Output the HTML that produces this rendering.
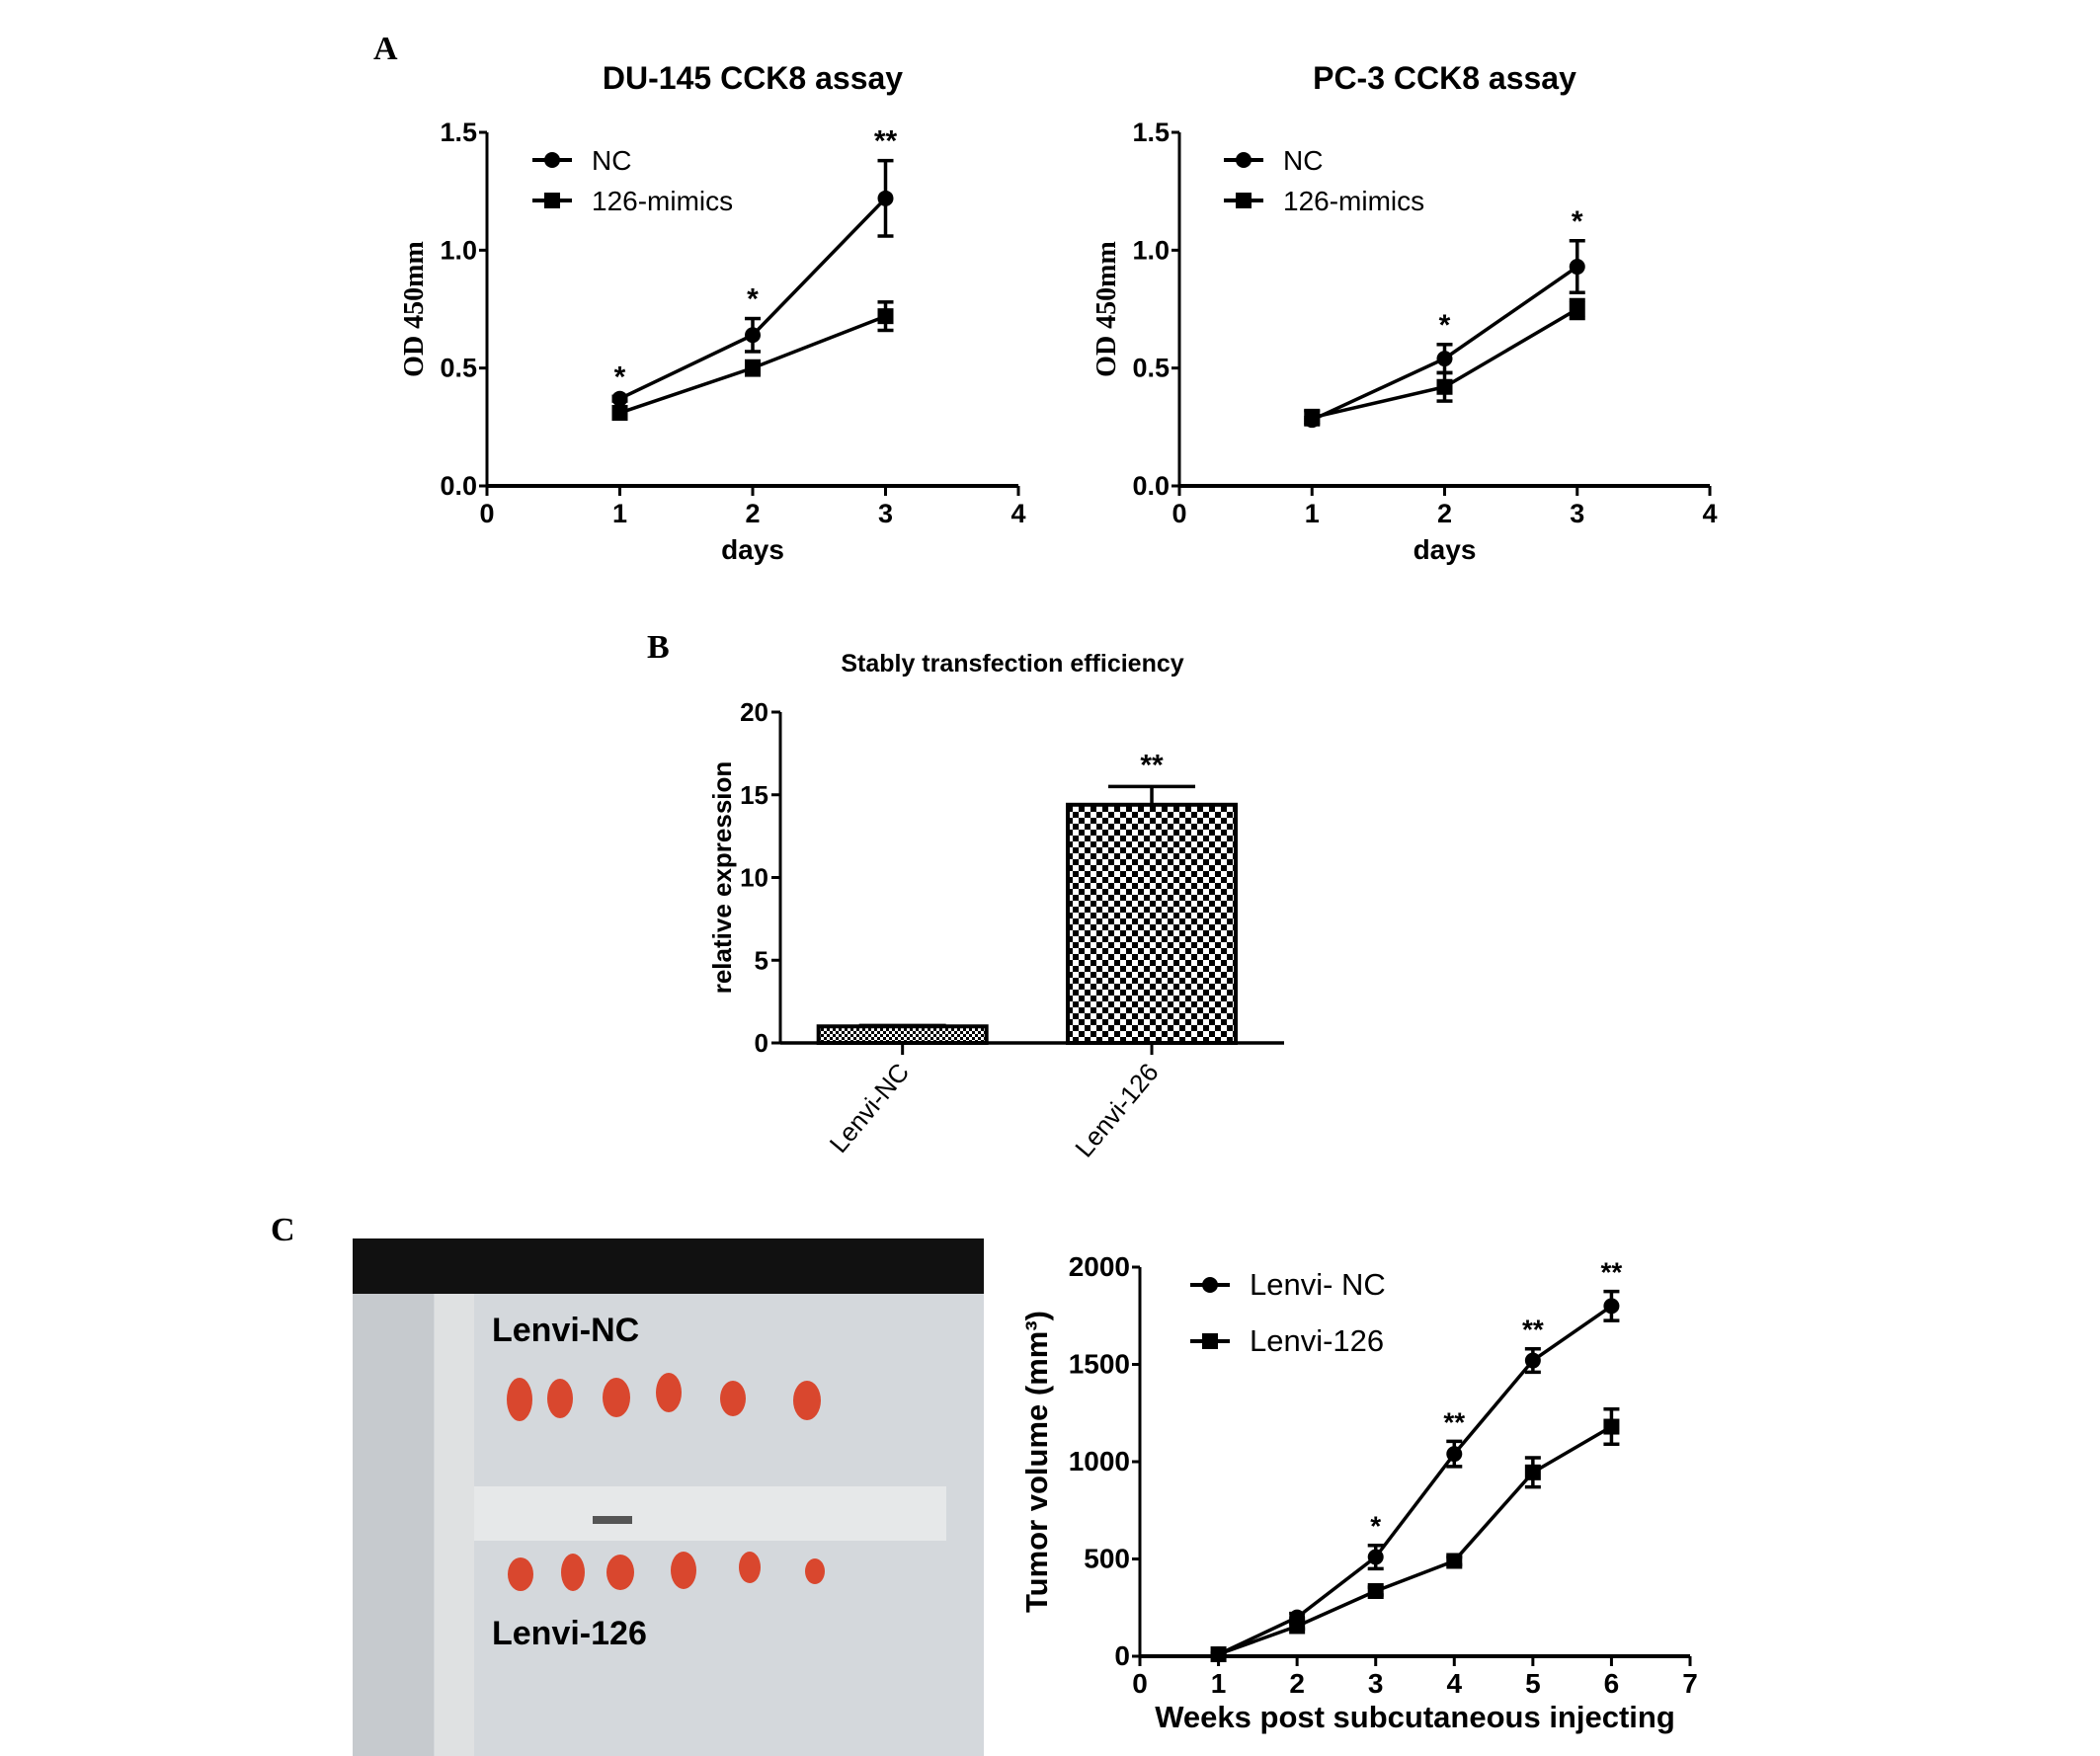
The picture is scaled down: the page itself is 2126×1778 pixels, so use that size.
<!DOCTYPE html>
<html><head><meta charset="utf-8"><style>
html,body{margin:0;padding:0;background:#fff}
svg{display:block}
text{font-family:"Liberation Sans",sans-serif;font-weight:bold;fill:#000}
.serif{font-family:"Liberation Serif",serif}
</style></head><body>
<svg id="fig" width="2126" height="1778" viewBox="0 0 2126 1778" xmlns="http://www.w3.org/2000/svg">
<defs>
<pattern id="chk" width="12" height="12" patternUnits="userSpaceOnUse"><rect width="12" height="12" fill="#fff"/><rect width="6" height="6" fill="#000"/><rect x="6" y="6" width="6" height="6" fill="#000"/></pattern>
<pattern id="chk2" width="6" height="6" patternUnits="userSpaceOnUse"><rect width="6" height="6" fill="#fff"/><rect width="3" height="3" fill="#000"/><rect x="3" y="3" width="3" height="3" fill="#000"/></pattern>
</defs>
<text x="378" y="60" class="serif" font-size="34">A</text>
<text x="655" y="666" class="serif" font-size="34">B</text>
<text x="274" y="1256" class="serif" font-size="34">C</text>

<g>
<rect x="357" y="1254" width="639" height="524" fill="#d4d8dc"/>
<rect x="357" y="1254" width="639" height="56" fill="#111"/>
<rect x="357" y="1310" width="82" height="468" fill="#c6cace"/>
<rect x="440" y="1310" width="40" height="468" fill="#dfe1e2"/>
<rect x="480" y="1505" width="478" height="55" fill="#e6e8e9"/>
<rect x="600" y="1535" width="40" height="8" fill="#555"/>
<text x="498" y="1358" font-size="34" fill="#111">Lenvi-NC</text>
<text x="498" y="1665" font-size="34" fill="#111">Lenvi-126</text>
<g fill="#d9472e">
<ellipse cx="526" cy="1417" rx="13" ry="22"/><ellipse cx="567" cy="1416" rx="13" ry="20"/><ellipse cx="624" cy="1415" rx="14" ry="20"/><ellipse cx="677" cy="1410" rx="13" ry="20"/><ellipse cx="742" cy="1416" rx="13" ry="18"/><ellipse cx="817" cy="1418" rx="14" ry="20"/>
<ellipse cx="527" cy="1594" rx="13" ry="17"/><ellipse cx="580" cy="1592" rx="12" ry="19"/><ellipse cx="628" cy="1592" rx="14" ry="18"/><ellipse cx="692" cy="1590" rx="13" ry="19"/><ellipse cx="759" cy="1587" rx="11" ry="16"/><ellipse cx="825" cy="1591" rx="10" ry="13"/>
</g></g>
<g id="charts"></g>
</svg>
<script>
const daysCat=[1,2,3];
const du145NC=[0.37,0.64,1.22];
const du145NCErr=[0.01,0.07,0.16];
const du145Mim=[0.31,0.50,0.72];
const du145MimErr=[0.01,0.03,0.06];
const du145Stars=["*","*","**"];
const pc3NC=[0.28,0.54,0.93];
const pc3NCErr=[0.01,0.06,0.11];
const pc3Mim=[0.29,0.42,0.75];
const pc3MimErr=[0.03,0.06,0.04];
const pc3Stars=["","*","*"];
const odTicks=["0.0","0.5","1.0","1.5"];
const dayTicks=["0","1","2","3","4"];
const barCats=["Lenvi-NC","Lenvi-126"];
const barVals=[1.0,14.4];
const barErr=[0.05,1.1];
const barTicks=["0","5","10","15","20"];
const weeks=[1,2,3,4,5,6];
const tumNC=[10,200,510,1040,1520,1800];
const tumNCErr=[5,20,60,65,60,75];
const tumLv=[10,155,335,490,945,1180];
const tumLvErr=[5,15,20,20,75,90];
const tumStars=["","","*","**","**","**"];
const tumTicks=["0","500","1000","1500","2000"];
const weekTicks=["0","1","2","3","4","5","6","7"];

const NS="http://www.w3.org/2000/svg";
const root=document.getElementById('charts');
function el(tag,attrs,parent,txt){const e=document.createElementNS(NS,tag);for(const k in attrs)e.setAttribute(k,attrs[k]);if(txt!==undefined)e.textContent=txt;(parent||root).appendChild(e);return e;}

function lineChart(o){
  const g=el('g',{});
  
  
  const sx=v=>o.x0+(v-o.xmin)/(o.xmax-o.xmin)*(o.x1-o.x0);
  const sy=v=>o.y0-(v-o.ymin)/(o.ymax-o.ymin)*(o.y0-o.y1);
  if(o.title){const t=el('text',{x:(o.x0+o.x1)/2,y:o.titleY,'text-anchor':'middle','font-size':32},g,o.title);
    }
  el('line',{x1:o.x0,y1:o.y0+8,x2:o.x0,y2:o.y1,stroke:'#000','stroke-width':3},g);
  el('line',{x1:o.x0,y1:o.y0,x2:o.x1,y2:o.y0,stroke:'#000','stroke-width':4},g);
  o.yTicks.forEach(t=>{const y=sy(+t);el('line',{x1:o.x0-8,y1:y,x2:o.x0,y2:y,stroke:'#000','stroke-width':3},g);
    const tx=el('text',{x:o.x0-10,y:y+9,'text-anchor':'end','font-size':o.fs},g,t);
    });
  o.xTicks.forEach(t=>{const x=sx(+t);el('line',{x1:x,y1:o.y0,x2:x,y2:o.y0+10,stroke:'#000','stroke-width':3},g);
    const tx=el('text',{x:x,y:o.y0+37,'text-anchor':'middle','font-size':o.fs},g,t);
    });
  const xl=el('text',{x:(o.x0+o.x1)/2,y:o.y0+o.xlOff,'text-anchor':'middle','font-size':o.xlfs},g,o.xlabel);
  
  const yl=el('text',{transform:`translate(${o.ylx},${(o.y0+o.y1)/2}) rotate(-90)`,'text-anchor':'middle','font-size':o.ylfs,class:o.ylclass||''},g,o.ylabel);
  
  o.series.forEach((s,si)=>{
    const pts=o.cats.map((c,i)=>sx(c)+','+sy(s.v[i])).join(' ');
    const pl=el('polyline',{points:pts,fill:'none',stroke:'#000','stroke-width':3.5},g);
    
    o.cats.forEach((c,i)=>{const x=sx(c),y=sy(s.v[i]),ea=sy(s.v[i]+s.e[i]),eb=sy(s.v[i]-s.e[i]);
      el('line',{x1:x,y1:ea,x2:x,y2:eb,stroke:'#000','stroke-width':3.5},g);
      el('line',{x1:x-8,y1:ea,x2:x+8,y2:ea,stroke:'#000','stroke-width':3.5},g);
      el('line',{x1:x-8,y1:eb,x2:x+8,y2:eb,stroke:'#000','stroke-width':3.5},g);
      let m;
      if(s.shape==='c'){m=el('circle',{cx:x,cy:y,r:8},g);}else{m=el('rect',{x:x-8,y:y-8,width:16,height:16},g);}
      
    });
  });
  o.stars.forEach((st,i)=>{if(!st)return;const top=sy(o.series[0].v[i]+o.series[0].e[i]);
    const t=el('text',{x:sx(o.cats[i]),y:top-10,'text-anchor':'middle','font-size':o.starfs},g,st);
    });
  o.series.forEach((s,si)=>{const ly=o.legY+si*o.legDy;
    const lg=el('g',{},g);
    el('line',{x1:o.legX-20,y1:ly,x2:o.legX+20,y2:ly,stroke:'#000','stroke-width':4},lg);
    if(s.shape==='c')el('circle',{cx:o.legX,cy:ly,r:8},lg);else el('rect',{x:o.legX-8,y:ly-8,width:16,height:16},lg);
    el('text',{x:o.legX+40,y:ly+10,'font-size':o.legfs,style:'font-weight:normal'},lg,s.label);});
}

lineChart({name:'du145-cck8-chart',title:'DU-145 CCK8 assay',titleY:90,x0:493,x1:1031,y0:492,y1:134,xmin:0,xmax:4,ymin:0,ymax:1.5,
  yTicks:odTicks,xTicks:dayTicks,fs:27,xlabel:'days',xlfs:28,xlOff:74,ylabel:'OD 450mm',ylfs:28,ylx:428,ylclass:'serif',cats:daysCat,
  series:[{key:'nc',shape:'c',v:du145NC,e:du145NCErr,label:'NC'},{key:'mimics',shape:'s',v:du145Mim,e:du145MimErr,label:'126-mimics'}],
  stars:du145Stars,starfs:30,legX:559,legY:162,legDy:41,legfs:28});
lineChart({name:'pc3-cck8-chart',title:'PC-3 CCK8 assay',titleY:90,x0:1194,x1:1731,y0:492,y1:134,xmin:0,xmax:4,ymin:0,ymax:1.5,
  yTicks:odTicks,xTicks:dayTicks,fs:27,xlabel:'days',xlfs:28,xlOff:74,ylabel:'OD 450mm',ylfs:28,ylx:1129,ylclass:'serif',cats:daysCat,
  series:[{key:'nc',shape:'c',v:pc3NC,e:pc3NCErr,label:'NC'},{key:'mimics',shape:'s',v:pc3Mim,e:pc3MimErr,label:'126-mimics'}],
  stars:pc3Stars,starfs:30,legX:1259,legY:162,legDy:41,legfs:28});
lineChart({name:'tumor-volume-chart',title:'',x0:1154,x1:1711,y0:1677,y1:1283,xmin:0,xmax:7,ymin:0,ymax:2000,
  yTicks:tumTicks,xTicks:weekTicks,fs:28,xlabel:'Weeks post subcutaneous injecting',xlfs:31,xlOff:72,ylabel:'Tumor volume (mm³)',ylfs:31,ylx:1060,cats:weeks,
  series:[{key:'lenvi-nc',shape:'c',v:tumNC,e:tumNCErr,label:'Lenvi- NC'},{key:'lenvi-126',shape:'s',v:tumLv,e:tumLvErr,label:'Lenvi-126'}],
  stars:tumStars,starfs:28,legX:1225,legY:1301,legDy:57,legfs:31});

(function(){
  const x0=790,x1=1300,y0=1056,y1=721,ymax=20;
  const sy=v=>y0-v/ymax*(y0-y1);
  const g=el('g',{});
  
  
  const t=el('text',{x:1025,y:680,'text-anchor':'middle','font-size':25},g,'Stably transfection efficiency');
  
  el('line',{x1:x0,y1:y0,x2:x0,y2:y1,stroke:'#000','stroke-width':3},g);
  el('line',{x1:x0,y1:y0,x2:x1,y2:y0,stroke:'#000','stroke-width':3.5},g);
  barTicks.forEach(tk=>{const y=sy(+tk);el('line',{x1:x0-9,y1:y,x2:x0,y2:y,stroke:'#000','stroke-width':3},g);
    const tx=el('text',{x:x0-12,y:y+9,'text-anchor':'end','font-size':26},g,tk);
    });
  const yl=el('text',{transform:`translate(740,${(y0+y1)/2}) rotate(-90)`,'text-anchor':'middle','font-size':26},g,'relative expression');
  
  const band=(x1-x0)/barCats.length*0.97, bw=170;
  barCats.forEach((c,i)=>{const cx=x0+band*(i+0.5)+5*i;const y=sy(barVals[i]);
    el('line',{x1:cx,y1:y0,x2:cx,y2:y0+12,stroke:'#000','stroke-width':3},g);
    const ea=sy(barVals[i]+barErr[i]);
    el('line',{x1:cx,y1:y,x2:cx,y2:ea,stroke:'#000','stroke-width':3.5},g);
    el('line',{x1:cx-44,y1:ea,x2:cx+44,y2:ea,stroke:'#000','stroke-width':3.5},g);
    const b=el('rect',{x:cx-bw/2,y:y,width:bw,height:y0-y,fill:i===0?'url(#chk2)':'url(#chk)',stroke:'#000','stroke-width':4},g);
    
    const lx=el('text',{transform:`translate(${cx+8},${y0+30}) rotate(-50)`,'text-anchor':'end','font-size':26,style:'font-weight:normal'},g,c);
    
    if(i===1){const s=el('text',{x:cx,y:ea-12,'text-anchor':'middle','font-size':30},g,'**');
      }
  });
})();
</script>
</body></html>
